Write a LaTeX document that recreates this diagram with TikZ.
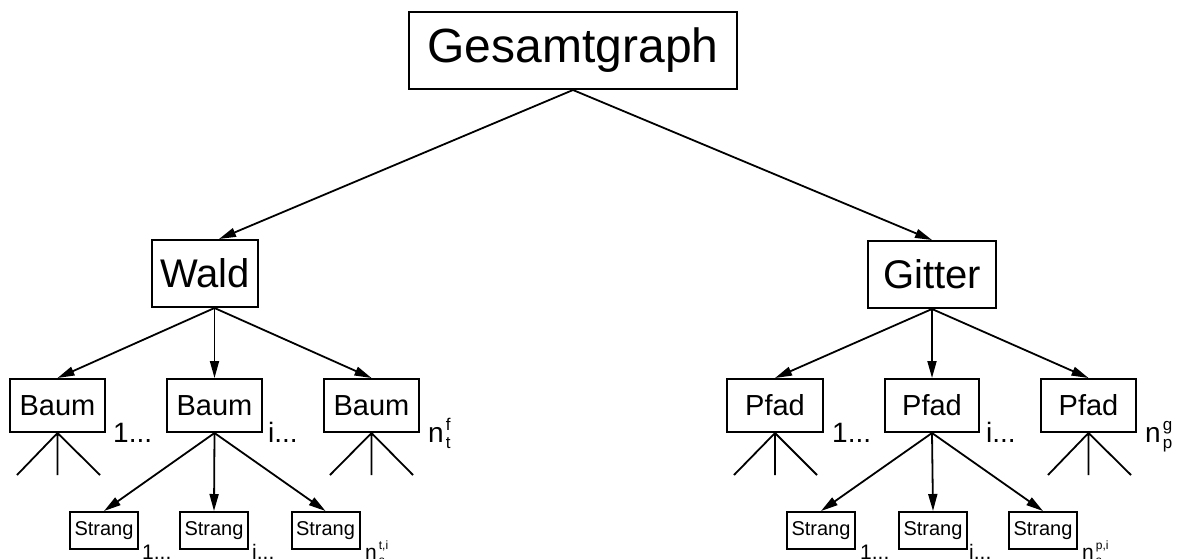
\documentclass[tikz,border=0pt]{standalone}
\usepackage{fontspec}
\setmainfont{Liberation Sans}
\usetikzlibrary{arrows.meta}
\newcommand{\fs}[1]{\fontsize{#1}{#1}\selectfont}
\begin{document}
\begin{tikzpicture}[x=1pt,y=-1pt,
  box/.style={draw,line width=2pt,inner sep=0pt,align=center},
  arr/.style={line width=1.8pt,-{Triangle[length=17pt,width=9pt]}},
  stub/.style={line width=1.8pt},
  lbl/.style={anchor=base west,inner sep=0pt},
  slbl/.style={anchor=base west,inner sep=0pt}]
\useasboundingbox (0,0) rectangle (1178,558);
\clip (0,0) rectangle (1178,558);
% top
\node[box,minimum width=328pt,minimum height=77pt] (g) at (573,50.5) {\fs{48}Gesamtgraph};
\node[box,minimum width=106pt,minimum height=67pt] (w) at (205,273.5) {\fs{40}Wald};
\node[box,minimum width=128pt,minimum height=67pt] (gi) at (932,274.5) {\fs{40}Gitter};
% Baum
\node[box,minimum width=95pt,minimum height=53pt] (b1) at (57.5,405.5) {\fs{29}Baum};
\node[box,minimum width=95pt,minimum height=53pt] (b2) at (214.5,405.5) {\fs{29}Baum};
\node[box,minimum width=95pt,minimum height=53pt] (b3) at (371.5,405.5) {\fs{29}Baum};
% Pfad
\node[box,minimum width=96pt,minimum height=53pt] (p1) at (775,405.5) {\fs{29}Pfad};
\node[box,minimum width=94pt,minimum height=53pt] (p2) at (932,405.5) {\fs{29}Pfad};
\node[box,minimum width=95pt,minimum height=53pt] (p3) at (1088.5,405.5) {\fs{29}Pfad};
% Strang
\node[box,minimum width=68pt,minimum height=37pt] (s1) at (104,530.5) {\fs{20}Strang};
\node[box,minimum width=68pt,minimum height=37pt] (s2) at (214,530.5) {\fs{20}Strang};
\node[box,minimum width=68pt,minimum height=37pt] (s3) at (325.5,530.5) {\fs{20}Strang};
\node[box,minimum width=68pt,minimum height=37pt] (t1) at (821,530.5) {\fs{20}Strang};
\node[box,minimum width=68pt,minimum height=37pt] (t2) at (933,530.5) {\fs{20}Strang};
\node[box,minimum width=68pt,minimum height=37pt] (t3) at (1043,530.5) {\fs{20}Strang};
% labels
\node[lbl] (lb1) at (113,442) {\fs{28}1...};
\node[lbl] (lb2) at (268,442) {\fs{28}i...};
\node[lbl] (lb3) at (428,442) {\fs{28}n\kern2pt\rlap{\raisebox{12pt}{\fs{17}f}}\raisebox{-6pt}{\fs{17}t}};
\node[lbl] (lp1) at (832,442) {\fs{28}1...};
\node[lbl] (lp2) at (986,442) {\fs{28}i...};
\node[lbl] (lp3) at (1145,442) {\fs{28}n\kern2pt\rlap{\raisebox{12pt}{\fs{17}g}}\raisebox{-6pt}{\fs{17}p}};
\node[slbl] (ls1) at (142,559) {\fs{21}1...};
\node[slbl] (ls2) at (252,559) {\fs{21}j...};
\node[slbl] (ls3) at (365,559) {\fs{21}n\kern2pt\rlap{\raisebox{10pt}{\fs{12}t,i}}\raisebox{-5pt}{\fs{12}s}};
\node[slbl] (lt1) at (860,559) {\fs{21}1...};
\node[slbl] (lt2) at (969,559) {\fs{21}j...};
\node[slbl] (lt3) at (1082,559) {\fs{21}n\kern2pt\rlap{\raisebox{10pt}{\fs{12}p,i}}\raisebox{-5pt}{\fs{12}s}};
% arrows
\draw[arr] (g.south) -- ([xshift=14pt]w.north);
\draw[arr] (g.south) -- (gi.north);
\coordinate (wo) at (w.south -| b2.north);
\draw[arr] (wo) -- (b1.north);
\draw[arr] (wo) -- (b2.north);
\draw[arr] (wo) -- (b3.north);
\draw[arr] (gi.south) -- (p1.north);
\draw[arr] (gi.south) -- (p2.north);
\draw[arr] (gi.south) -- (p3.north);
\draw[arr] (b2.south) -- (s1.north);
\draw[arr] (b2.south) -- (s2.north);
\draw[arr] (b2.south) -- (s3.north);
\draw[arr] (p2.south) -- (t1.north);
\draw[arr] (p2.south) -- (t2.north);
\draw[arr] (p2.south) -- (t3.north);
% stubs
\coordinate (b1a) at (17,475); \coordinate (b1b) at (57.5,475); \coordinate (b1c) at (100,475);
\coordinate (b3a) at (330,475); \coordinate (b3b) at (371.5,475); \coordinate (b3c) at (413,475);
\coordinate (p1a) at (734,475); \coordinate (p1b) at (775,475); \coordinate (p1c) at (817,475);
\coordinate (p3a) at (1048,475); \coordinate (p3b) at (1088.5,475); \coordinate (p3c) at (1131,475);
\draw[stub] (b1a) -- (b1.south) -- (b1c) (b1.south) -- (b1b);
\draw[stub] (b3a) -- (b3.south) -- (b3c) (b3.south) -- (b3b);
\draw[stub] (p1a) -- (p1.south) -- (p1c) (p1.south) -- (p1b);
\draw[stub] (p3a) -- (p3.south) -- (p3c) (p3.south) -- (p3b);
\end{tikzpicture}
\end{document}
